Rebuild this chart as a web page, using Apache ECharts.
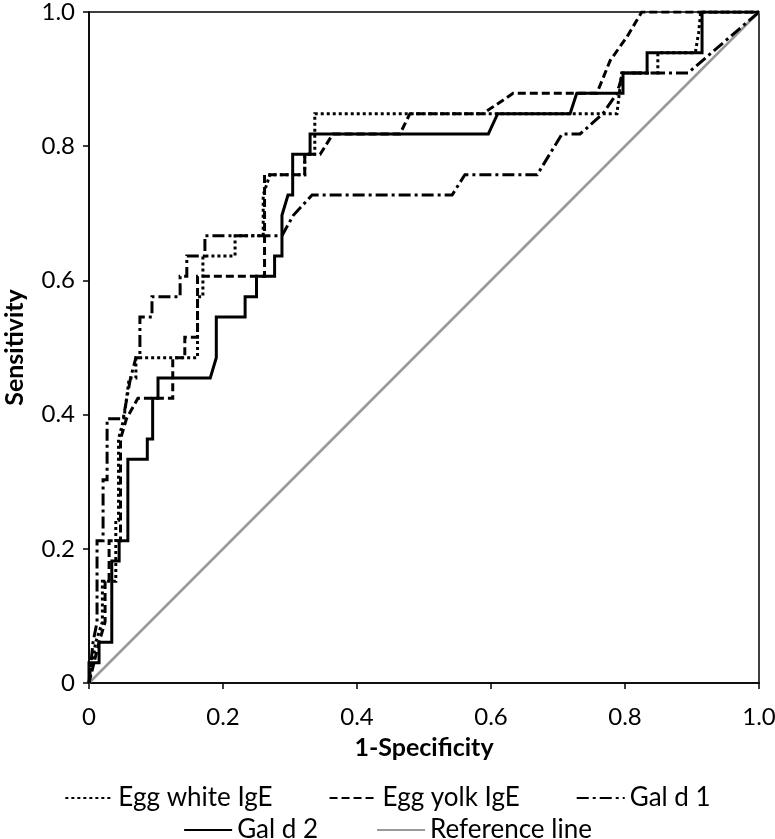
<!DOCTYPE html>
<html>
<head>
<meta charset="utf-8">
<script src="https://cdn.jsdelivr.net/npm/echarts@6/dist/echarts.min.js"></script>
<style>
  html, body { margin: 0; padding: 0; background: #fff; }
  #chart { width: 775px; height: 839px; }
</style>
</head>
<body>
<div id="chart"></div>
<script>
// ROC curves, [1-specificity, sensitivity]
const eggWhite = [
  [0, 0], [0.01, 0.0606], [0.02, 0.0909], [0.02, 0.1515], [0.04, 0.1515], [0.04, 0.2424],
  [0.044, 0.2424], [0.044, 0.3636], [0.052, 0.3939], [0.06, 0.4545], [0.07, 0.4545],
  [0.07, 0.4848], [0.162, 0.4848], [0.162, 0.5758], [0.17, 0.5758], [0.17, 0.6364],
  [0.218, 0.6364], [0.218, 0.6667], [0.26, 0.6667], [0.26, 0.7273], [0.27, 0.7576],
  [0.322, 0.7576], [0.322, 0.7879], [0.337, 0.7879], [0.337, 0.8485], [0.788, 0.8485],
  [0.795, 0.9091], [0.849, 0.9091], [0.849, 0.9394], [0.905, 0.9394], [0.91, 0.97],
  [0.913, 1], [1, 1]
]
const eggYolk = [
  [0, 0], [0.015, 0.0606], [0.024, 0.0909], [0.024, 0.1515], [0.03, 0.1515], [0.03, 0.2121],
  [0.047, 0.2121], [0.047, 0.3636], [0.056, 0.3939], [0.073, 0.4242], [0.125, 0.4242],
  [0.125, 0.4848], [0.143, 0.4848], [0.143, 0.5152], [0.162, 0.5152], [0.162, 0.6061],
  [0.262, 0.6061], [0.262, 0.7576], [0.322, 0.7576], [0.322, 0.7879], [0.345, 0.7879],
  [0.364, 0.8182], [0.464, 0.8182], [0.479, 0.8485], [0.588, 0.8485], [0.633, 0.8788],
  [0.758, 0.8788], [0.778, 0.928], [0.803, 0.963], [0.825, 1], [1, 1]
]
const galD1 = [
  [0, 0], [0.006, 0.0606], [0.012, 0.0909], [0.012, 0.2121], [0.021, 0.2121], [0.021, 0.303],
  [0.027, 0.303], [0.027, 0.3939], [0.051, 0.3939], [0.062, 0.4545], [0.07, 0.4848],
  [0.076, 0.4848], [0.076, 0.5455], [0.094, 0.5455], [0.094, 0.5758], [0.136, 0.5758],
  [0.136, 0.6061], [0.146, 0.6061], [0.146, 0.6364], [0.173, 0.6364], [0.173, 0.6667],
  [0.288, 0.6667], [0.305, 0.697], [0.333, 0.7273], [0.542, 0.7273], [0.561, 0.7576],
  [0.669, 0.7576], [0.706, 0.8182], [0.733, 0.8182], [0.767, 0.8485], [0.788, 0.8788],
  [0.797, 0.9091], [0.894, 0.9091], [1, 1]
]
const galD2 = [
  [0, 0], [0, 0.0303], [0.015, 0.0303], [0.015, 0.0606], [0.034, 0.0606], [0.034, 0.1818],
  [0.045, 0.1818], [0.045, 0.2121], [0.058, 0.2121], [0.058, 0.3333], [0.087, 0.3333],
  [0.087, 0.3636], [0.095, 0.3636], [0.095, 0.4242], [0.103, 0.4242], [0.103, 0.4545],
  [0.181, 0.4545], [0.19, 0.4848], [0.19, 0.5455], [0.233, 0.5455], [0.233, 0.5758],
  [0.25, 0.5758], [0.25, 0.6061], [0.277, 0.6061], [0.277, 0.6364], [0.288, 0.6364],
  [0.288, 0.697], [0.297, 0.7273], [0.304, 0.7273], [0.304, 0.7879], [0.33, 0.7879],
  [0.33, 0.8182], [0.596, 0.8182], [0.61, 0.8485], [0.718, 0.8485], [0.728, 0.8788],
  [0.797, 0.8788], [0.797, 0.9091], [0.833, 0.9091], [0.833, 0.9394], [0.915, 0.9394],
  [0.915, 1], [1, 1]
]
const refLine = [[0, 0], [1, 1]]

const font = 'Lato'
const fmt = (v) => v === 0 ? '0' : v.toFixed(1)

function roc(name, data, type, color, width) {
  return {
    name: name,
    type: 'line',
    data: data,
    symbol: 'none',
    animation: false,
    lineStyle: { color: color, width: width, type: type, cap: 'butt', join: 'miter' },
    itemStyle: { color: color }
  }
}

const legendBase = {
  left: 'center', itemWidth: 48, itemHeight: 14,
  itemStyle: { opacity: 0 },
  textStyle: { fontFamily: font, fontSize: 26, color: '#000' }
}

const chart = echarts.init(document.getElementById('chart'))
chart.setOption({
  backgroundColor: '#fff',
  animation: false,
  grid: {
    left: 89, right: 16, top: 12, bottom: 156,
    outerBoundsMode: 'none',
    show: true, borderColor: '#000', borderWidth: 1.5
  },
  xAxis: {
    type: 'value', min: 0, max: 1, interval: 0.2,
    name: '1-Specificity', nameLocation: 'middle', nameGap: 52,
    nameTextStyle: { fontFamily: font, fontSize: 25, fontWeight: 'bold', color: '#000' },
    axisLine: { lineStyle: { color: '#000', width: 1.5 } },
    axisTick: { show: true, length: 6, lineStyle: { color: '#000', width: 1.5 } },
    axisLabel: { fontFamily: font, fontSize: 24, color: '#000', margin: 22, formatter: fmt },
    splitLine: { show: false }
  },
  yAxis: {
    type: 'value', min: 0, max: 1, interval: 0.2,
    name: 'Sensitivity', nameLocation: 'middle', nameGap: 62,
    nameTextStyle: { fontFamily: font, fontSize: 25, fontWeight: 'bold', color: '#000' },
    axisLine: { lineStyle: { color: '#000', width: 1.5 } },
    axisTick: { show: true, length: 6, lineStyle: { color: '#000', width: 1.5 } },
    axisLabel: { fontFamily: font, fontSize: 24, color: '#000', margin: 14, formatter: fmt },
    splitLine: { show: false }
  },
  legend: [
    Object.assign({}, legendBase, {
      data: ['Egg white IgE', 'Egg yolk IgE', 'Gal d 1'],
      top: 780, itemGap: 56
    }),
    Object.assign({}, legendBase, {
      data: ['Gal d 2', 'Reference line'],
      top: 812, itemGap: 58
    })
  ],
  series: [
    roc('Reference line', refLine, 'solid', '#999', 2.5),
    roc('Egg white IgE', eggWhite, [3, 3], '#000', 3),
    roc('Egg yolk IgE', eggYolk, [8, 4], '#000', 3),
    roc('Gal d 1', galD1, [12, 4, 3, 4], '#000', 3),
    roc('Gal d 2', galD2, 'solid', '#000', 3)
  ]
})
</script>
</body>
</html>
